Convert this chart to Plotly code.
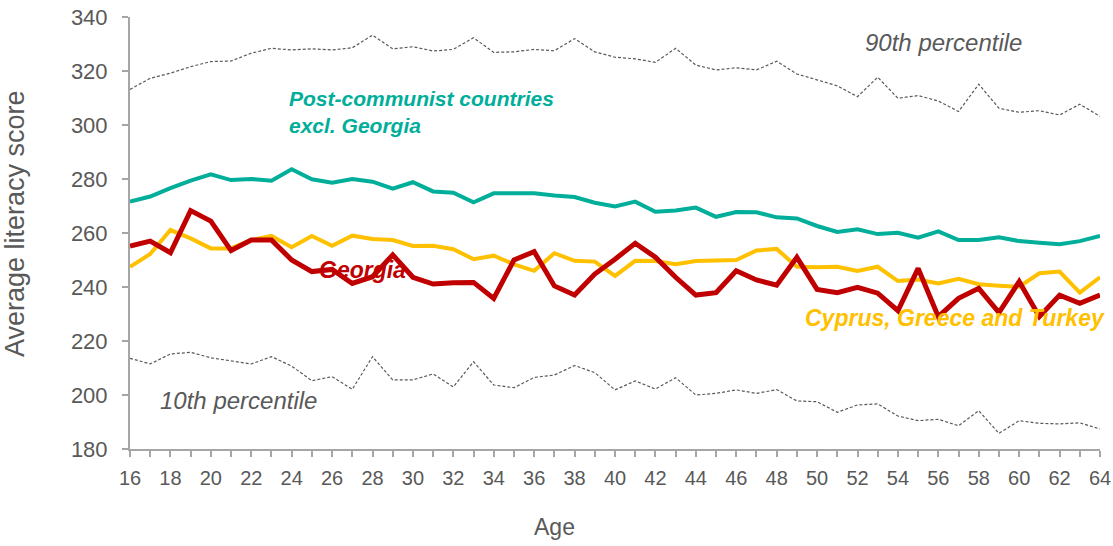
import plotly.graph_objects as go

ages = list(range(16, 65))

p90 = [313.2, 317.3, 319.2, 321.6, 323.5, 323.7, 326.6, 328.4, 327.8, 328.2,
       327.8, 328.6, 333.3, 328.2, 329.0, 327.4, 328.0, 332.3, 326.9, 327.1,
       328.0, 327.5, 332.0, 327.1, 325.1, 324.5, 323.2, 328.4, 322.2, 320.4,
       321.2, 320.4, 323.6, 318.9, 316.7, 314.5, 310.5, 317.7, 309.9, 310.9,
       308.9, 305.0, 315.1, 306.2, 304.7, 305.3, 303.7, 307.7, 303.2]

p10 = [213.6, 211.5, 215.2, 215.8, 213.8, 212.6, 211.5, 214.2, 210.7, 205.3,
       206.8, 202.1, 214.2, 205.6, 205.6, 207.8, 203.0, 212.3, 203.7, 202.7,
       206.5, 207.4, 210.9, 208.3, 201.9, 205.2, 202.2, 206.4, 200.0, 200.6,
       201.9, 200.6, 202.0, 197.8, 197.5, 193.6, 196.3, 196.7, 192.2, 190.5,
       191.0, 188.6, 194.2, 185.8, 190.5, 189.5, 189.3, 189.7, 187.4]

post_communist = [271.6, 273.5, 276.6, 279.4, 281.7, 279.6, 280.0, 279.4, 283.6, 279.9,
                  278.6, 280.0, 279.0, 276.4, 278.8, 275.4, 274.9, 271.4, 274.7, 274.7,
                  274.7, 273.9, 273.3, 271.2, 269.8, 271.6, 267.9, 268.3, 269.4, 266.0,
                  267.8, 267.7, 265.8, 265.4, 262.6, 260.4, 261.4, 259.6, 260.1, 258.3,
                  260.6, 257.4, 257.4, 258.4, 257.0, 256.4, 255.8, 257.0, 258.9]

cgt = [247.5, 252.2, 261.1, 258.0, 254.3, 254.3, 257.4, 258.9, 254.7, 258.9,
       255.3, 259.0, 257.8, 257.4, 255.2, 255.3, 254.0, 250.3, 251.6, 248.4,
       246.0, 252.5, 249.7, 249.4, 244.1, 249.7, 249.6, 248.4, 249.6, 249.7,
       250.0, 253.5, 254.1, 247.5, 247.3, 247.5, 245.9, 247.5, 242.2, 242.8,
       241.3, 243.0, 241.0, 240.5, 240.1, 245.1, 245.7, 237.9, 243.6]

georgia = [255.2, 257.0, 252.7, 268.3, 264.4, 253.5, 257.4, 257.4, 250.0, 245.7,
           246.5, 241.3, 243.8, 251.9, 243.6, 241.1, 241.6, 241.7, 235.8, 250.0,
           253.1, 240.4, 237.0, 244.8, 250.3, 256.2, 251.0, 243.6, 237.0, 237.9,
           246.0, 242.6, 240.7, 251.0, 239.1, 237.9, 239.9, 237.7, 231.2, 246.9,
           229.0, 235.8, 239.5, 230.5, 242.0, 229.0, 237.0, 234.0, 237.0]

y_ticks = [180, 200, 220, 240, 260, 280, 300, 320, 340]
x_ticks = list(range(16, 65, 2))

GREY = "#595959"
TEAL = "#00AE9A"
GOLD = "#FFC000"
RED = "#C00000"
AXIS = "#A6A6A6"
FONT = "Liberation Sans, Arial, sans-serif"

fig = go.Figure()
fig.add_trace(go.Scatter(x=ages, y=p90, mode="lines",
                         line=dict(color=GREY, width=1.2, dash="3px,2px")))
fig.add_trace(go.Scatter(x=ages, y=p10, mode="lines",
                         line=dict(color=GREY, width=1.2, dash="3px,2px")))
fig.add_trace(go.Scatter(x=ages, y=cgt, mode="lines",
                         line=dict(color=GOLD, width=4)))
fig.add_trace(go.Scatter(x=ages, y=post_communist, mode="lines",
                         line=dict(color=TEAL, width=4)))
fig.add_trace(go.Scatter(x=ages, y=georgia, mode="lines",
                         line=dict(color=RED, width=5)))

fig.update_layout(
    width=1113, height=546,
    margin=dict(l=130, r=13, t=17, b=97),
    paper_bgcolor="white", plot_bgcolor="white",
    showlegend=False,
    font=dict(family=FONT, color=GREY, size=20),
    xaxis=dict(range=[16, 64], tickvals=x_ticks, showgrid=False, zeroline=False,
               automargin=False,
               showline=True, linecolor=AXIS, linewidth=2,
               ticks="outside", ticklen=6, tickcolor=AXIS, tickwidth=2,
               minor=dict(dtick=1, ticks="outside", ticklen=6, tickcolor=AXIS, tickwidth=2),
               tickfont=dict(size=20, color=GREY), ticklabelstandoff=4),
    yaxis=dict(range=[180, 340], tickvals=y_ticks, showgrid=False, zeroline=False,
               automargin=False,
               showline=True, linecolor=AXIS, linewidth=2,
               ticks="outside", ticklen=6, tickcolor=AXIS, tickwidth=2,
               tickfont=dict(size=22, color=GREY), ticklabelstandoff=10),
)

annos = [
    dict(x=23.78, y=304.8, text="<b><i>Post-communist countries<br>excl. Georgia</i></b>",
         xanchor="left", yanchor="middle", align="left", font=dict(color=TEAL, size=21)),
    dict(x=52.26, y=330.7, text="<i>90th percentile</i>",
         xanchor="left", yanchor="middle", font=dict(color=GREY, size=24)),
    dict(x=25.26, y=246.3, text="<b><i>Georgia</i></b>",
         xanchor="left", yanchor="middle", font=dict(color=RED, size=23)),
    dict(x=1.0072, y=(228.5 - 180) / 160, xref="paper", yref="paper",
         text="<b><i>Cyprus, Greece and Turkey</i></b>",
         xanchor="right", yanchor="middle", font=dict(color=GOLD, size=23)),
    dict(x=17.39, y=198.1, text="<i>10th percentile</i>",
         xanchor="left", yanchor="middle", font=dict(color=GREY, size=24)),
    dict(x=-0.1186, y=0.523, xref="paper", yref="paper", text="Average literacy score",
         textangle=-90, xanchor="center", yanchor="middle",
         font=dict(color=GREY, size=27)),
    dict(x=0.438, y=-0.1806, xref="paper", yref="paper", text="Age",
         xanchor="center", yanchor="middle", font=dict(color=GREY, size=23)),
]
for a in annos:
    a.setdefault("xref", "x")
    a.setdefault("yref", "y")
    a["showarrow"] = False
    fig.add_annotation(**a)

fig.write_html(
    "out.html",
    config={"displayModeBar": False},
    post_script="document.body.style.margin='0px';document.body.style.padding='0px';",
)
